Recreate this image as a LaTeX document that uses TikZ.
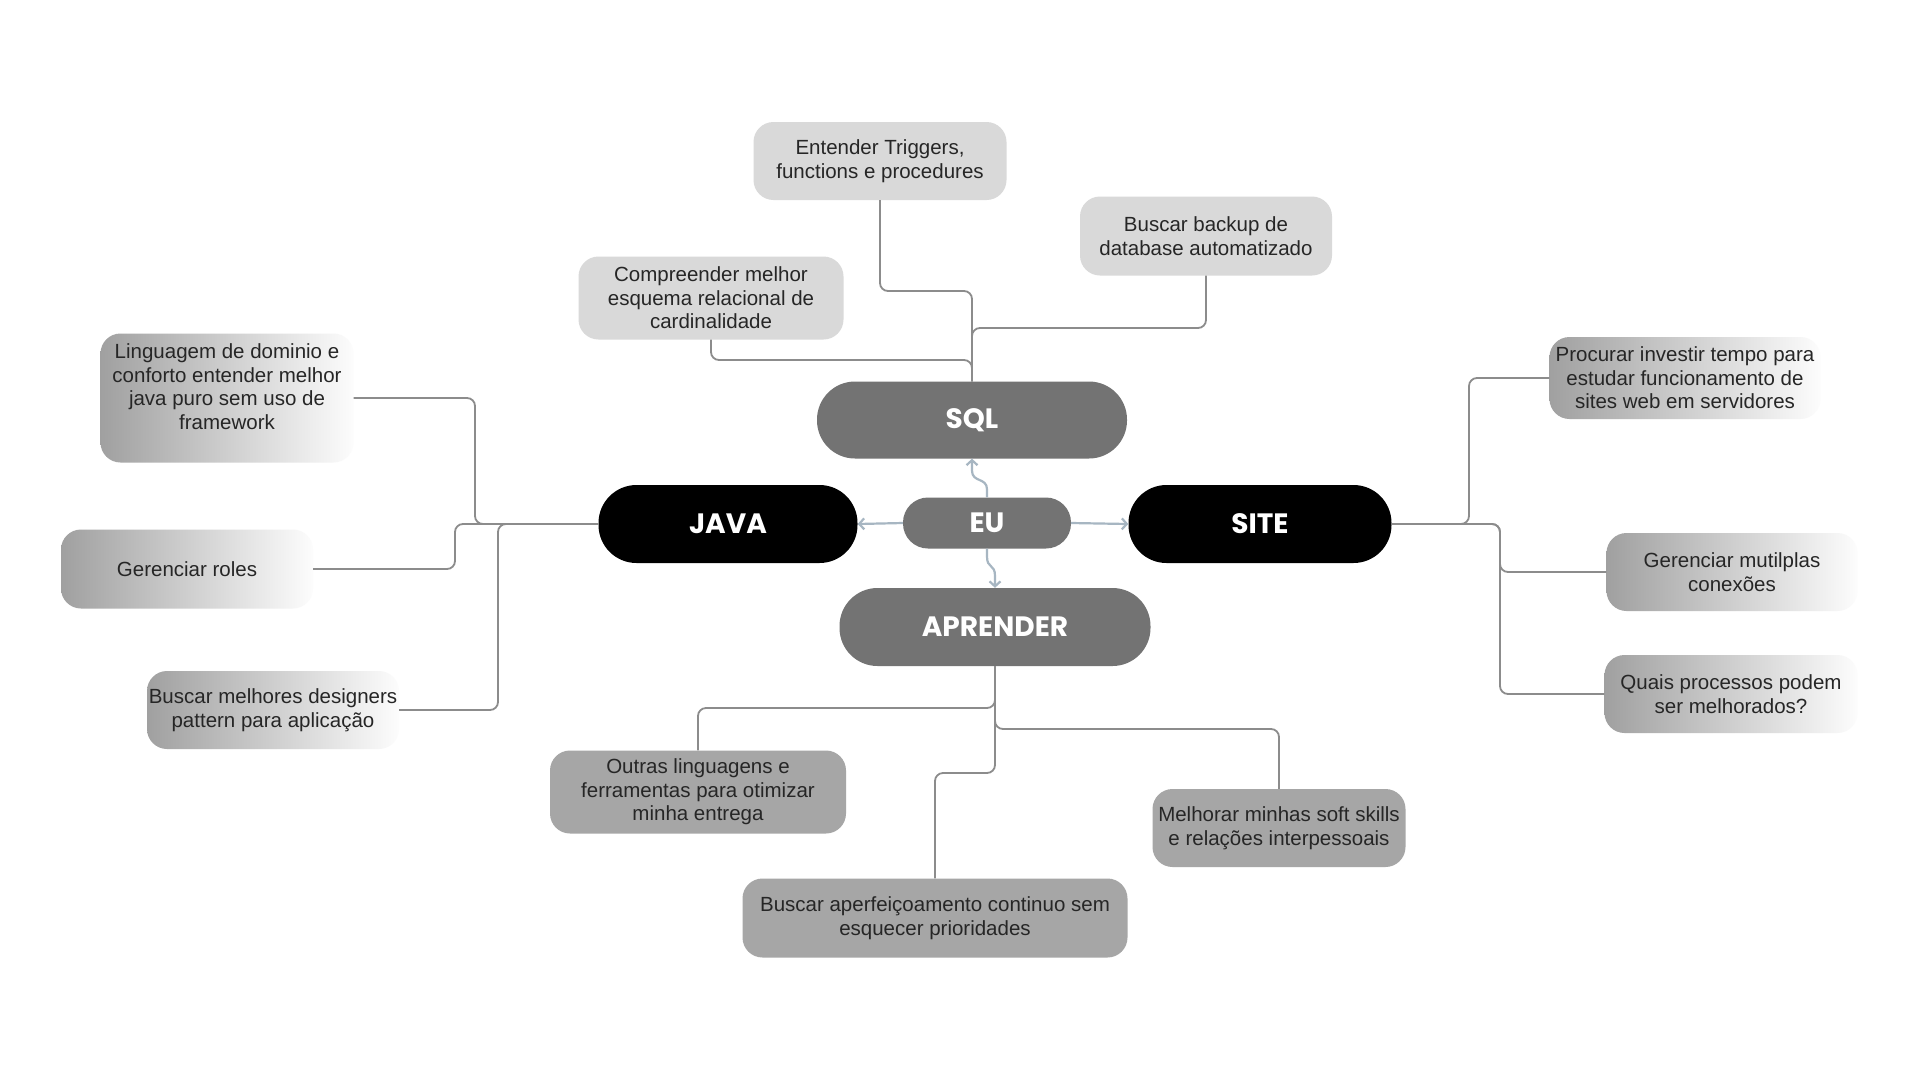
\documentclass[tikz,border=0pt]{standalone}
\usepackage{fontspec}
\setmainfont{Liberation Sans}
\newfontfamily\titlefont{Poppins}
\usetikzlibrary{arrows.meta,calc}
\definecolor{lightc}{HTML}{D9D9D9}
\definecolor{midc}{HTML}{A6A6A6}
\definecolor{pillc}{HTML}{737373}
\definecolor{gradc}{HTML}{A0A0A0}
\definecolor{linec}{HTML}{8C8C8C}
\definecolor{arrc}{HTML}{A7B6C2}
\definecolor{txtc}{HTML}{262626}
\begin{document}
\begin{tikzpicture}[x=1pt,y=-1pt,
  base/.style={rectangle, inner sep=0pt, align=center, text=txtc, font=\fontsize{20.5}{23.5}\selectfont},
  lightbox/.style={base, fill=lightc, rounded corners=20pt},
  midbox/.style={base, fill=midc, rounded corners=20pt},
  gradbox/.style={base, left color=gradc, right color=white!99!black, rounded corners=20pt},
  pill/.style={rectangle, inner sep=0pt, rounded corners=38pt, text=white, font=\titlefont\bfseries\fontsize{28}{32}\selectfont},
  conn/.style={draw=linec, line width=1.8pt, rounded corners=8pt},
  euarrow/.style={draw=arrc, line width=2.2pt, -{Straight Barb[length=5pt,width=11pt]}}
]
\useasboundingbox[fill=white] (0,0) rectangle (1920,1080);

% central nodes
\node[pill, fill=pillc, minimum width=310pt, minimum height=77pt] (sql) at (972,420) {SQL};
\node[pill, fill=pillc, rounded corners=25pt, minimum width=168pt, minimum height=51pt] (eu) at (987,523) {EU};
\node[pill, fill=black, minimum width=259pt, minimum height=78pt] (java) at (728,524) {JAVA};
\node[pill, fill=black, minimum width=263pt, minimum height=78pt] (site) at (1260,524) {SITE};
\node[pill, fill=pillc, minimum width=311pt, minimum height=78pt] (apr) at (995,627) {APRENDER};

% SQL children
\node[lightbox, minimum width=253pt, minimum height=78pt] (ent) at (880,161) {Entender Triggers,\\functions e procedures};
\node[lightbox, minimum width=252pt, minimum height=79pt] (bak) at (1206,236) {Buscar backup de\\database automatizado};
\node[lightbox, minimum width=265pt, minimum height=83pt] (comp) at (711,298) {Compreender melhor\\esquema relacional de\\cardinalidade};

% JAVA children
\node[gradbox, minimum width=253pt, minimum height=129pt] (ling) at (227,398) {Linguagem de dominio e\\conforto entender melhor\\java puro sem uso de\\framework\\[-1pt]};
\node[gradbox, minimum width=252pt, minimum height=79pt] (roles) at (187,569) {Gerenciar roles};
\node[gradbox, minimum width=252pt, minimum height=78pt] (design) at (273,710) {Buscar melhores designers\\pattern para aplicação};

% SITE children
\node[gradbox, minimum width=271pt, minimum height=82pt] (proc) at (1685,378) {Procurar investir tempo para\\estudar funcionamento de\\sites web em servidores};
\node[gradbox, minimum width=251pt, minimum height=78pt] (mult) at (1732,572) {Gerenciar mutilplas\\conexões};
\node[gradbox, minimum width=253pt, minimum height=78pt] (quais) at (1731,694) {Quais processos podem\\ser melhorados?};

% APRENDER children
\node[midbox, minimum width=296pt, minimum height=83pt] (outras) at (698,792) {Outras linguagens e\\ferramentas para otimizar\\minha entrega};
\node[midbox, minimum width=385pt, minimum height=79pt] (aperf) at (935,918) {Buscar aperfeiçoamento continuo sem\\esquecer prioridades};
\node[midbox, minimum width=253pt, minimum height=78pt] (melh) at (1279,828) {Melhorar minhas soft skills\\e relações interpessoais};

% SQL connectors
\draw[conn] (ent.south) -- (ent.south |- 0,291) -| (sql.north);
\draw[conn] (comp.south) -- (comp.south |- 0,360) -| (sql.north);
\draw[conn] (bak.south) -- (bak.south |- 0,328) -| (sql.north);

% JAVA connectors
\draw[conn] (ling.east) -| (475,524) -- (java.west);
\draw[conn] (roles.east) -| (455,524) -- (java.west);
\draw[conn] (design.east) -| (498,524) -- (java.west);

% SITE connectors
\draw[conn] (site.east) -- (1469,524) |- (proc.west);
\draw[conn] (site.east) -- (1500,524) |- (mult.west);
\draw[conn] (site.east) -- (1500,524) |- (quais.west);

% APRENDER connectors
\draw[conn] (apr.south) -- (apr.south |- 0,708) -| (outras.north);
\draw[conn] (apr.south) -- (apr.south |- 0,773) -| (aperf.north);
\draw[conn] (apr.south) -- (apr.south |- 0,729) -| (melh.north);

% EU arrows
\draw[euarrow] (eu.west) -- (java.east);
\draw[euarrow] (eu.east) -- (site.west);
\draw[euarrow] (eu.north) -- ++(0,-8) .. controls +(0,-12) and +(0,12) .. ($(sql.south)+(0,12)$) -- (sql.south);
\draw[euarrow] (eu.south) -- ++(0,8) .. controls +(0,12) and +(0,-12) .. ($(apr.north)+(0,-12)$) -- (apr.north);
\end{tikzpicture}
\end{document}
